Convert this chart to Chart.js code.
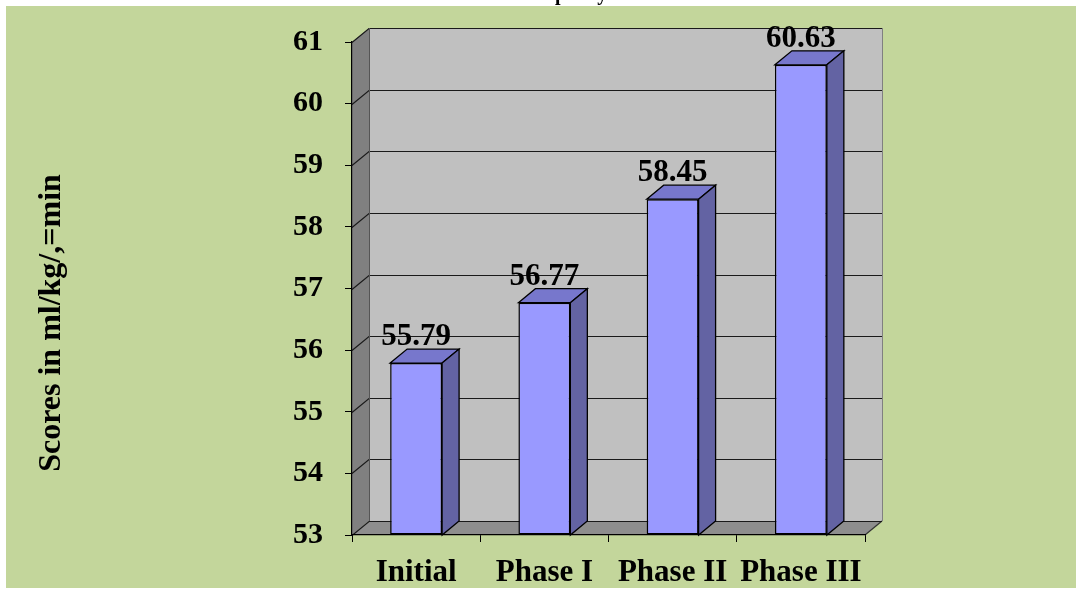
<!DOCTYPE html>
<html>
<head>
<meta charset="utf-8">
<script src="https://cdn.jsdelivr.net/npm/chart.js@4.4.1/dist/chart.umd.min.js"></script>
<style>
  html, body { margin: 0; padding: 0; background: #ffffff; }
  canvas { display: block; }
</style>
</head>
<body>
<canvas id="c" width="1076" height="589"></canvas>
<script>
// ---- data ----
const categories = ['Initial', 'Phase I', 'Phase II', 'Phase III'];
const scores = [55.79, 56.77, 58.45, 60.63];
const yMin = 53;
const yMax = 61;
const yStep = 1;
const yAxisTitle = 'Scores in ml/kg/,=min';
const chartTitle = 'Aerobic capacity';

// ---- style ----
const FONT = "'Liberation Serif', 'Times New Roman', serif";
const DX = 17, DY = -14;   // 3D depth offset

function poly(ctx, pts, fill, stroke, lw) {
  ctx.beginPath();
  ctx.moveTo(pts[0][0], pts[0][1]);
  for (let i = 1; i < pts.length; i++) ctx.lineTo(pts[i][0], pts[i][1]);
  ctx.closePath();
  if (fill) { ctx.fillStyle = fill; ctx.fill(); }
  if (stroke) { ctx.strokeStyle = stroke; ctx.lineWidth = lw || 1; ctx.stroke(); }
}

const scene3d = {
  id: 'scene3d',
  beforeDraw(chart) {
    const { ctx, width, height, chartArea: a, scales: { y } } = chart;
    ctx.save();
    ctx.fillStyle = '#ffffff';
    ctx.fillRect(0, 0, width, height);
    ctx.fillStyle = '#c3d69b';
    ctx.fillRect(6, 6, width - 6, height - 7);

    // clipped title (only descenders visible above the panel)
    ctx.fillStyle = '#000';
    ctx.font = 'bold 20px ' + FONT;
    ctx.textAlign = 'left';
    ctx.textBaseline = 'alphabetic';
    const lead = ctx.measureText('Aerobic ca').width;
    ctx.fillText(chartTitle, 555 - lead, 0);
    ctx.fillStyle = '#ffffff';
    ctx.fillRect(0, 6, 6, height);

    // y-axis title
    ctx.save();
    ctx.translate(52, 323);
    ctx.rotate(-Math.PI / 2);
    ctx.font = 'bold 32px ' + FONT;
    ctx.textAlign = 'center';
    ctx.textBaseline = 'middle';
    ctx.fillStyle = '#000';
    ctx.fillText(yAxisTitle, 0, 0);
    ctx.restore();

    // back wall
    ctx.fillStyle = '#c0c0c0';
    ctx.fillRect(a.left + DX, a.top + DY, a.right - a.left, a.bottom - a.top);
    ctx.strokeStyle = '#808080';
    ctx.lineWidth = 1;
    ctx.beginPath();
    ctx.moveTo(a.right + DX + 0.5, a.top + DY);
    ctx.lineTo(a.right + DX + 0.5, a.bottom + DY);
    ctx.stroke();
    // left side wall
    poly(ctx, [[a.left, a.top], [a.left + DX, a.top + DY], [a.left + DX, a.bottom + DY], [a.left, a.bottom]], '#808080');
    // floor
    poly(ctx, [[a.left, a.bottom], [a.right, a.bottom], [a.right + DX, a.bottom + DY], [a.left + DX, a.bottom + DY]], '#8e8e8e');
    ctx.strokeStyle = '#333333';
    ctx.lineWidth = 1.2;
    ctx.beginPath();
    ctx.moveTo(a.right, a.bottom);
    ctx.lineTo(a.right + DX, a.bottom + DY);
    ctx.stroke();

    // gridlines on side wall and back wall
    ctx.strokeStyle = '#1a1a1a';
    ctx.lineWidth = 1.2;
    for (let v = yMin; v <= yMax; v += yStep) {
      const py = Math.round(y.getPixelForValue(v)) + 0.5;
      ctx.beginPath();
      ctx.moveTo(a.left, py);
      ctx.lineTo(a.left + DX, py + DY);
      ctx.lineTo(a.right + DX, py + DY);
      ctx.stroke();
    }
    // inner vertical edge of side wall
    ctx.strokeStyle = '#555555';
    ctx.lineWidth = 1;
    ctx.beginPath();
    ctx.moveTo(a.left + DX + 0.5, a.top + DY);
    ctx.lineTo(a.left + DX + 0.5, a.bottom + DY);
    ctx.stroke();
    ctx.restore();
  },
  afterDatasetsDraw(chart) {
    const { ctx, chartArea: a } = chart;
    const meta = chart.getDatasetMeta(0);
    const base = a.bottom;
    ctx.save();
    meta.data.forEach((bar, i) => {
      const { x, y, width } = bar.getProps(['x', 'y', 'width'], true);
      const l = x - width / 2, r = x + width / 2;
      // top face
      poly(ctx, [[l, y], [l + DX, y + DY], [r + DX, y + DY], [r, y]], '#7777cc', '#000', 1.3);
      // side face
      poly(ctx, [[r, y], [r + DX, y + DY], [r + DX, base + DY], [r, base]], '#6363a3', '#000', 1.3);
      // value label
      ctx.fillStyle = '#000';
      ctx.font = 'bold 31px ' + FONT;
      ctx.textAlign = 'center';
      ctx.textBaseline = 'alphabetic';
      ctx.fillText(scores[i].toFixed(2), x, y - 18);
    });
    ctx.restore();
  }
};

new Chart(document.getElementById('c'), {
  type: 'bar',
  data: {
    labels: categories,
    datasets: [{
      data: scores,
      base: yMin,
      backgroundColor: '#9999ff',
      borderColor: '#000000',
      borderWidth: 1.5,
      borderSkipped: false,
      categoryPercentage: 1,
      barPercentage: 0.405
    }]
  },
  options: {
    responsive: false,
    animation: false,
    layout: { padding: { left: 0, right: 211, top: 42, bottom: 0 } },
    plugins: {
      legend: { display: false },
      tooltip: { enabled: false },
      title: { display: false }
    },
    scales: {
      x: {
        grid: { display: true, drawOnChartArea: false, tickLength: 7, color: '#000', offset: true },
        border: { display: true, color: '#000', width: 1.2 },
        ticks: { color: '#000', font: { family: FONT, size: 31, weight: 'bold' }, padding: 12, maxRotation: 0 },
        afterFit: (s) => { s.height = 54; }
      },
      y: {
        min: yMin,
        max: yMax,
        grid: { display: true, drawOnChartArea: false, tickLength: 7, color: '#000' },
        border: { display: true, color: '#000', width: 1.2 },
        ticks: { stepSize: yStep, color: '#000', font: { family: FONT, size: 30, weight: 'bold' }, padding: 22 },
        afterFit: (s) => { s.width = 352; }
      }
    }
  },
  plugins: [scene3d]
});
</script>
</body>
</html>
